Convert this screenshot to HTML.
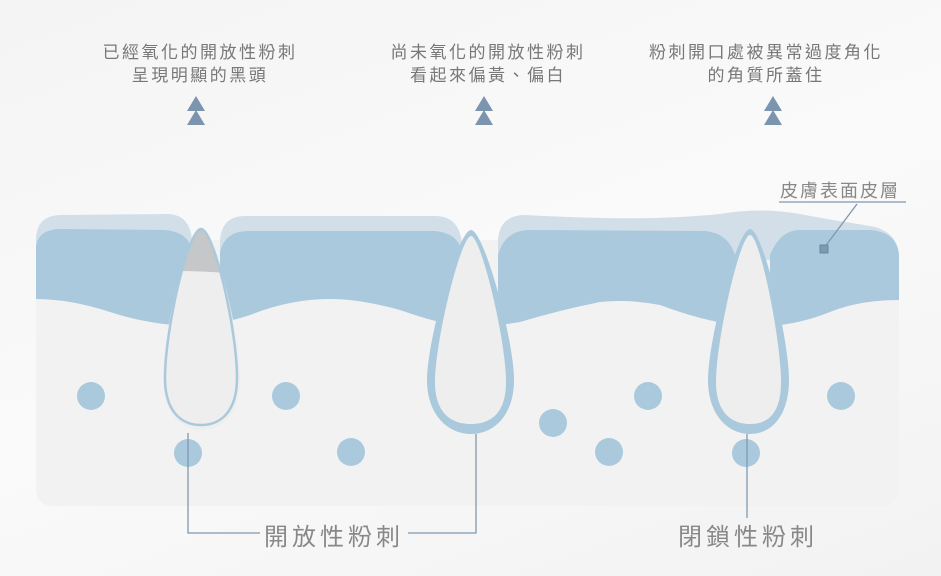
<!DOCTYPE html>
<html><head><meta charset="utf-8"><style>
html,body{margin:0;padding:0;}
body{width:941px;height:576px;overflow:hidden;background:linear-gradient(160deg,#f4f4f4,#fafafa 50%,#f2f2f2);font-family:"Liberation Sans","Noto Sans CJK TC",sans-serif;}
svg{display:block}
</style></head><body>
<svg width="941" height="576" viewBox="0 0 941 576" xmlns="http://www.w3.org/2000/svg">
<defs>
<clipPath id="p1"><path d="M201,229 C188,229 165,330 165,378 C165,410 180,425 201,425 C222,425 237,410 237,378 C237,330 214,229 201,229Z"/></clipPath>
</defs>
<rect x="36" y="240" width="863" height="266" rx="16" fill="#f2f2f2"/>
<path d="M36,240 Q36,216 60,215 L170,214 Q190,216 192,240 L192,260 L36,260Z" fill="#d2dfe8"/>
<path d="M220,240 Q222,216 245,216 L435,216 Q460,216 462,245 L462,260 L220,260Z" fill="#d2dfe8"/>
<path d="M498,240 Q500,215 525,215 C600,219 660,220 720,214 Q760,207 800,214 C830,220 860,224 875,227 Q897,233 899,255 L899,260 L498,260Z" fill="#d2dfe8"/>
<path d="M36,248 Q37,229 62,229 L165,230 Q188,232 192,250 L192,326 Q150,325 110,312 Q70,299 36,299Z" fill="#aac9dd"/>
<path d="M220,252 Q225,231 248,231 L435,231 Q458,233 462,252 L462,326 Q440,324 400,310 Q360,299 330,299 Q290,299 250,315 Q232,321 220,322Z" fill="#aac9dd"/>
<path d="M498,255 Q505,230 530,230 L705,231 Q728,233 735,255 L735,325 Q700,320 660,305 Q630,299 600,302 Q560,310 520,322 Q508,324 498,325Z" fill="#aac9dd"/>
<path d="M770,255 Q780,230 800,230 L870,230 Q897,232 899,255 L899,300 Q860,300 830,312 Q800,324 770,326Z" fill="#aac9dd"/>
<path d="M201,229 C188,229 163,330 163,378 C163,414 182,430 201,430 C222,430 240,414 240,378 C240,330 214,229 201,229Z" fill="#ececec" opacity="0.8"/>
<path d="M201,229 C188,229 165,330 165,378 C165,410 180,425 201,425 C222,425 237,410 237,378 C237,330 214,229 201,229Z" fill="#eeeeee"/>
<path d="M150,220 L250,220 L250,276 Q215,270 150,271Z" fill="#c6c7c9" clip-path="url(#p1)"/>
<path d="M201,229 C188,229 165,330 165,378 C165,410 180,425 201,425 C222,425 237,410 237,378 C237,330 214,229 201,229Z" fill="none" stroke="#aac9dd" stroke-width="2.5"/>
<path d="M471,230 C458,230 427,340 427,380 C427,415 448,434 471,434 C494,434 514,415 514,380 C514,340 484,230 471,230Z" fill="#aac9dd"/>
<path d="M471,236 C461,236 435,340 435,382 C435,412 450,424 471,424 C492,424 506,412 506,382 C506,340 481,236 471,236Z" fill="#eeeeee"/>
<path d="M750,229 C737,229 708,340 708,380 C708,415 728,434 750,434 C772,434 789,415 789,380 C789,340 763,229 750,229Z" fill="#aac9dd"/>
<path d="M750,235 C740,235 716,340 716,382 C716,412 731,424 750,424 C769,424 781,412 781,382 C781,340 760,235 750,235Z" fill="#eeeeee"/>
<g fill="#aac9dd">
<circle cx="91" cy="396" r="14"/><circle cx="286" cy="396" r="14"/><circle cx="188" cy="453" r="14"/>
<circle cx="351" cy="452" r="14"/><circle cx="553" cy="423" r="14"/><circle cx="648" cy="396" r="14"/>
<circle cx="609" cy="452" r="14"/><circle cx="746" cy="453" r="14"/><circle cx="841" cy="396" r="14"/>
</g>
<g stroke="#7f99b0" stroke-width="1.3" fill="none">
<polyline points="188,433 188,533 260,533"/>
<polyline points="408,533 476,533 476,434"/>
<line x1="747" y1="434" x2="747" y2="518"/>
<line x1="779" y1="202" x2="906" y2="202"/>
<line x1="857" y1="204" x2="824" y2="248"/>
</g>
<rect x="820" y="245" width="8" height="8" fill="#7f99b0" stroke="#6a86a0"/>
<g fill="#888" font-size="24" letter-spacing="4" font-family="Liberation Sans, Noto Sans CJK TC, sans-serif">
<text x="264" y="545">開放性粉刺</text>
<text x="678" y="545">閉鎖性粉刺</text>
</g>
<text x="780" y="197" fill="#888" font-size="18" letter-spacing="2" font-family="Liberation Sans, Noto Sans CJK TC, sans-serif">皮膚表面皮層</text>
<g fill="#777" font-size="17" letter-spacing="2.5" text-anchor="middle" font-family="Liberation Sans, Noto Sans CJK TC, sans-serif">
<text x="200" y="58">已經氧化的開放性粉刺</text>
<text x="200" y="81">呈現明顯的黑頭</text>
<text x="488" y="58">尚未氧化的開放性粉刺</text>
<text x="488" y="81">看起來偏黃、偏白</text>
<text x="766" y="58">粉刺開口處被異常過度角化</text>
<text x="766" y="81">的角質所蓋住</text>
</g>
<g fill="#7a95ad">
<polygon points="196,96 187,111 205,111"/><polygon points="196,110 187,125 205,125"/>
<polygon points="484,96 475,111 493,111"/><polygon points="484,110 475,125 493,125"/>
<polygon points="773,96 764,111 782,111"/><polygon points="773,110 764,125 782,125"/>
</g>
</svg>
</body></html>
